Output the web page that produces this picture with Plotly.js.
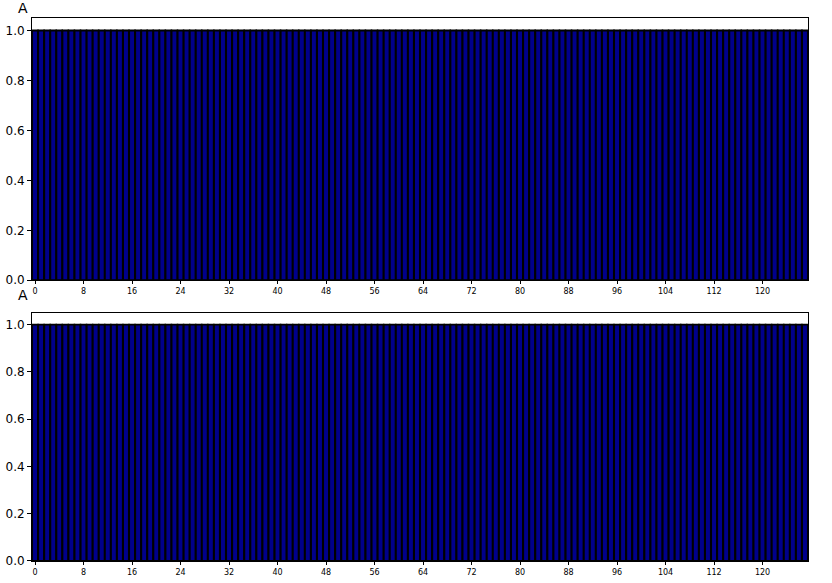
<!DOCTYPE html>
<html>
<head>
<meta charset="utf-8">
<script src="https://cdn.plot.ly/plotly-3.0.1.min.js"></script>
<style>html,body{margin:0;padding:0;background:#fff;}#chart{width:832px;height:583px;}</style>
</head>
<body>
<div id="chart"></div>
<script>
// Category positions (one narrow bar each), shared by both rows
var categories = [0,1,2,3,4,5,6,7,8,9,10,11,12,13,14,15,16,17,18,19,20,21,22,23,24,25,26,27,28,29,30,31,32,33,34,35,36,37,38,39,40,41,42,43,44,45,46,47,48,49,50,51,52,53,54,55,56,57,58,59,60,61,62,63,64,65,66,67,68,69,70,71,72,73,74,75,76,77,78,79,80,81,82,83,84,85,86,87,88,89,90,91,92,93,94,95,96,97,98,99,100,101,102,103,104,105,106,107,108,109,110,111,112,113,114,115,116,117,118,119,120,121,122,123,124,125,126,127];
// Top row values (every bar reaches the top of its axis)
var topValues = [1,1,1,1,1,1,1,1,1,1,1,1,1,1,1,1,1,1,1,1,1,1,1,1,1,1,1,1,1,1,1,1,1,1,1,1,1,1,1,1,1,1,1,1,1,1,1,1,1,1,1,1,1,1,1,1,1,1,1,1,1,1,1,1,1,1,1,1,1,1,1,1,1,1,1,1,1,1,1,1,1,1,1,1,1,1,1,1,1,1,1,1,1,1,1,1,1,1,1,1,1,1,1,1,1,1,1,1,1,1,1,1,1,1,1,1,1,1,1,1,1,1,1,1,1,1,1,1];
// Bottom row values
var bottomValues = [1,1,1,1,1,1,1,1,1,1,1,1,1,1,1,1,1,1,1,1,1,1,1,1,1,1,1,1,1,1,1,1,1,1,1,1,1,1,1,1,1,1,1,1,1,1,1,1,1,1,1,1,1,1,1,1,1,1,1,1,1,1,1,1,1,1,1,1,1,1,1,1,1,1,1,1,1,1,1,1,1,1,1,1,1,1,1,1,1,1,1,1,1,1,1,1,1,1,1,1,1,1,1,1,1,1,1,1,1,1,1,1,1,1,1,1,1,1,1,1,1,1,1,1,1,1,1,1];
var yTickVals = [0, 0.2, 0.4, 0.6, 0.8, 1.0];
var yTickText = ["0.0", "0.2", "0.4", "0.6", "0.8", "1.0"];
var rowTitles = ["A", "A"];

var barStyle = {color: "#00008B", line: {color: "#000000", width: 1.8}};
var traces = [
  {type: "bar", x: categories, y: topValues, marker: barStyle, xaxis: "x", yaxis: "y", showlegend: false, hoverinfo: "skip"},
  {type: "bar", x: categories, y: bottomValues, marker: barStyle, xaxis: "x2", yaxis: "y2", showlegend: false, hoverinfo: "skip"}
];

var fontBase = {family: "DejaVu Sans, sans-serif", size: 12, color: "#000"};
function yax(dom, anchor) {
  return {domain: dom, anchor: anchor, range: [0, 1.05], tickvals: yTickVals, ticktext: yTickText,
    ticks: "outside", ticklen: 4, tickcolor: "#000", showgrid: false, zeroline: false,
    showline: true, linecolor: "#000", mirror: true, tickfont: fontBase};
}
function xax(anchor) {
  return {domain: [0, 1], anchor: anchor, range: [-0.5, 127.5], showgrid: false, zeroline: false,
    showline: true, linecolor: "#000", mirror: true, ticks: "outside", ticklen: 3, tickcolor: "#000",
    tickmode: "linear", tick0: 0, dtick: 8, tickfont: {family: "DejaVu Sans, sans-serif", size: 8, color: "#000"}};
}

var layout = {
  width: 832, height: 583,
  margin: {l: 32, r: 24, t: 18, b: 22},
  paper_bgcolor: "#fff", plot_bgcolor: "#fff",
  bargap: 0.05,
  font: fontBase,
  xaxis: xax("y"),
  yaxis: yax([0.517, 1], "x"),
  xaxis2: xax("y2"),
  yaxis2: yax([0, 0.457], "x2"),
  annotations: [
    {text: rowTitles[0], xref: "paper", yref: "paper", x: 0, y: 1, xanchor: "right", yanchor: "bottom", xshift: -2, yshift: 0, showarrow: false, font: {family: "DejaVu Sans, sans-serif", size: 14, color: "#000"}},
    {text: rowTitles[1], xref: "paper", yref: "paper", x: 0, y: 0.457, xanchor: "right", yanchor: "bottom", xshift: -2, yshift: 8, showarrow: false, font: {family: "DejaVu Sans, sans-serif", size: 14, color: "#000"}}
  ]
};

Plotly.newPlot("chart", traces, layout, {displayModeBar: false, staticPlot: true});
</script>
</body>
</html>
